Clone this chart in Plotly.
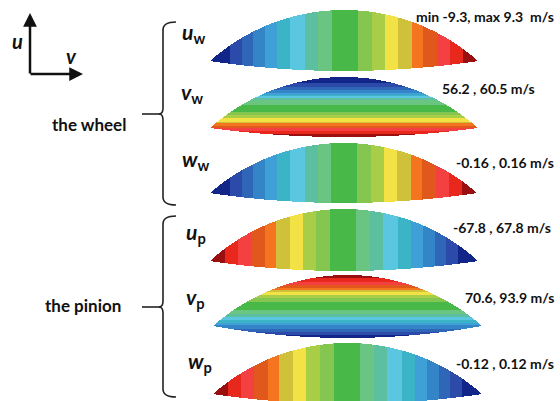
import numpy as np
import plotly.graph_objects as go

# ---------------- data ----------------
band_colors = ["#12268a", "#2c4aaa", "#2f66b8", "#3484c8", "#3fa0d8", "#3cb4c8",
               "#5ac6e0", "#5cbfa0", "#6ac482", "#48b848", "#84c650", "#a8ce48",
               "#f2e246", "#cfc23a", "#f47420", "#e0581c", "#f44040", "#e8281c",
               "#9a1010"]

# right edge (fraction of lens width / height) of each colour band, in drawing order
u_w_edges = [0.075, 0.119, 0.160, 0.205, 0.250, 0.299, 0.354, 0.403, 0.455, 0.552,
             0.604, 0.653, 0.701, 0.754, 0.795, 0.847, 0.896, 0.944, 1.0]
v_w_edges = [0.097, 0.161, 0.210, 0.274, 0.298, 0.323, 0.355, 0.387, 0.468, 0.580,
             0.630, 0.677, 0.742, 0.774, 0.823, 0.855, 0.903, 0.952, 1.0]
w_w_edges = [0.075, 0.119, 0.160, 0.205, 0.250, 0.299, 0.354, 0.403, 0.455, 0.552,
             0.604, 0.653, 0.701, 0.754, 0.795, 0.847, 0.896, 0.944, 1.0]
u_p_edges = [0.056, 0.104, 0.153, 0.205, 0.246, 0.299, 0.347, 0.396, 0.448, 0.545,
             0.597, 0.646, 0.701, 0.750, 0.795, 0.840, 0.881, 0.925, 1.0]
v_p_edges = [0.048, 0.110, 0.159, 0.206, 0.238, 0.270, 0.320, 0.370, 0.430, 0.550,
             0.620, 0.670, 0.720, 0.760, 0.800, 0.850, 0.900, 0.950, 1.0]
w_p_edges = [0.056, 0.104, 0.153, 0.205, 0.246, 0.299, 0.347, 0.396, 0.448, 0.545,
             0.597, 0.646, 0.701, 0.750, 0.795, 0.840, 0.881, 0.925, 1.0]

component_names = ["u", "v", "w", "u", "v", "w"]
component_subs = ["w", "w", "w", "p", "p", "p"]
range_labels = ["min -9.3, max 9.3  m/s", "56.2 , 60.5 m/s", "-0.16 , 0.16 m/s",
                "-67.8 , 67.8 m/s", "70.6, 93.9 m/s", "-0.12 , 0.12 m/s"]
group_labels = ["the wheel", "the pinion"]

# ---------------- layout geometry (pixels) ----------------
W, H = 560, 401
lens_x0 = [210, 210, 210, 210, 213, 213]
lens_x1 = [478, 478, 477, 478, 482, 482]
lens_tip = [61, 128, 193, 261, 326, 394]
lens_top = [10, 77, 143, 209, 275, 343]
lens_bot = [71, 137, 203, 271, 338, 404]
lens_dir = ["x", "y", "x", "x", "y", "x"]           # band direction
lens_rev = [False, False, False, True, True, True]  # colours run red->blue
lens_edges = [u_w_edges, v_w_edges, w_w_edges, u_p_edges, v_p_edges, w_p_edges]
label_xy = [(180, 33), (179, 93), (180, 160), (184, 233), (184, 298), (186, 362)]
range_xy = [(556, 16), (537, 88), (556, 162), (553, 227), (556, 297), (556, 363)]

n_col = len(band_colors)
cs = []
for i, c in enumerate(band_colors):
    cs.append([i / n_col, c])
    cs.append([(i + 1) / n_col, c])


def arc(xs, xc, half, sag):
    r = (half ** 2 + sag ** 2) / (2 * sag)
    return np.sqrt(np.clip(r ** 2 - (xs - xc) ** 2, 0, None)) - (r - sag)


fig = go.Figure()
for k in range(6):
    x0, x1 = lens_x0[k], lens_x1[k]
    xs = np.arange(np.floor(x0), np.ceil(x1)) + 0.5
    ys = np.arange(lens_top[k] - 1, lens_bot[k] + 1) + 0.5
    xc, half = (x0 + x1) / 2, (x1 - x0) / 2
    up = lens_tip[k] - arc(xs, xc, half, lens_tip[k] - lens_top[k])
    lo = lens_tip[k] + arc(xs, xc, half, lens_bot[k] - lens_tip[k])
    X, Y = np.meshgrid(xs, ys)
    inside = (Y >= up[None, :]) & (Y <= lo[None, :]) & (X >= x0) & (X <= x1)
    if lens_dir[k] == "x":
        frac = (X - x0) / (x1 - x0)
    else:
        frac = (Y - lens_top[k]) / (lens_bot[k] - lens_top[k])
    idx = np.searchsorted(np.array(lens_edges[k]), np.clip(frac, 0, 0.9999), side="right")
    idx = np.clip(idx, 0, n_col - 1).astype(float)
    if lens_rev[k]:
        idx = (n_col - 1) - idx
    z = np.where(inside, idx, np.nan)
    fig.add_trace(go.Heatmap(x=xs, y=ys, z=z, colorscale=cs, zmin=-0.5, zmax=n_col - 0.5,
                             showscale=False, hoverinfo="skip", zsmooth=False))

ann = []
font_main = "Lato, 'Open Sans', sans-serif"
for k in range(6):
    ann.append(dict(x=label_xy[k][0], y=label_xy[k][1], xref="x", yref="y",
                    text="<b><i>%s</i><sub>%s</sub></b>" % (component_names[k], component_subs[k]),
                    showarrow=False, xanchor="left", yanchor="middle",
                    font=dict(family=font_main, size=21, color="#111")))
    ann.append(dict(x=range_xy[k][0], y=range_xy[k][1], xref="x", yref="y",
                    text="<b>%s</b>" % range_labels[k], showarrow=False,
                    xanchor="right", yanchor="middle",
                    font=dict(family=font_main, size=14, color="#111")))

ann.append(dict(x=89, y=124, xref="x", yref="y", text="<b>%s</b>" % group_labels[0],
                showarrow=False, xanchor="center", yanchor="middle",
                font=dict(family=font_main, size=17, color="#111")))
ann.append(dict(x=83, y=305, xref="x", yref="y", text="<b>%s</b>" % group_labels[1],
                showarrow=False, xanchor="center", yanchor="middle",
                font=dict(family=font_main, size=17, color="#111")))

# coordinate indicator
ann.append(dict(x=30, y=13, ax=30, ay=75, xref="x", yref="y", axref="x", ayref="y",
                text="", showarrow=True, arrowhead=2, arrowsize=1.1, arrowwidth=2.5,
                arrowcolor="#111", standoff=0, startstandoff=0))
ann.append(dict(x=83, y=74, ax=29, ay=74, xref="x", yref="y", axref="x", ayref="y",
                text="", showarrow=True, arrowhead=2, arrowsize=1.1, arrowwidth=2.5,
                arrowcolor="#111", standoff=0, startstandoff=0))
ann.append(dict(x=17, y=41, xref="x", yref="y", text="<b><i>u</i></b>", showarrow=False,
                font=dict(family=font_main, size=20, color="#111")))
ann.append(dict(x=71, y=56, xref="x", yref="y", text="<b><i>v</i></b>", showarrow=False,
                font=dict(family=font_main, size=20, color="#111")))

shapes = []
for (t, m, b) in [(22, 114, 205), (216, 307, 397)]:
    path = ("M 176 %g Q 163 %g 163 %g L 163 %g Q 163 %g 159 %g Q 163 %g 163 %g "
            "L 163 %g Q 163 %g 176 %g" % (t, t, t + 8, m - 6, m, m, m, m + 6, b - 8, b, b))
    shapes.append(dict(type="path", path=path, xref="x", yref="y",
                       line=dict(color="#222", width=1.6)))
    shapes.append(dict(type="line", x0=142, x1=160, y0=m, y1=m, xref="x", yref="y",
                       line=dict(color="#222", width=1.6)))

fig.update_layout(
    width=W, height=H, margin=dict(l=0, r=0, t=0, b=0),
    paper_bgcolor="white", plot_bgcolor="white",
    xaxis=dict(range=[0, W], visible=False, fixedrange=True),
    yaxis=dict(range=[H, 0], visible=False, fixedrange=True),
    annotations=ann, shapes=shapes, showlegend=False,
)
fig.write_html("out.html", config=dict(displayModeBar=False),
               post_script="document.body.style.margin='0';document.body.style.overflow='hidden';")
